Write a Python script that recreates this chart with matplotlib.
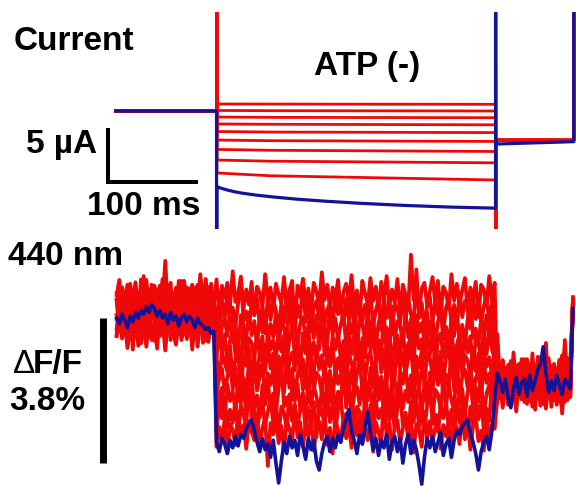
import numpy as np
import matplotlib.pyplot as plt

plt.rcParams['font.family'] = ['Liberation Sans', 'DejaVu Sans']

RED = '#f00808'
BLUE = '#12129a'

# ---- current traces (uA), step from 0 to 310 ms ----
red_start = [0.65, 0.05, -0.56, -1.2, -1.9, -2.69, -3.56, -4.54, -5.74]
red_mid = [0.64, 0.03, -0.59, -1.23, -1.95, -2.75, -3.64, -4.65, -6.0]   # at 60 ms
red_end = [0.62, 0.0, -0.62, -1.28, -2.0, -2.82, -3.75, -4.8, -6.39]
red_tail = -2.7
blue_t = [0.5, 5, 12, 20, 30, 45, 65, 90, 120, 160, 210, 260, 310]
blue_i = [-7.0, -7.15, -7.32, -7.48, -7.63, -7.8, -7.98, -8.17, -8.35, -8.55, -8.75, -8.9, -9.0]
blue_tail = [-3.06, -2.84]
off_scale = 40  # capacitive transients run off the panel

# ---- 440 nm fluorescence (dF/F, %) sampled every 3 ms ----
t_fl = np.arange(-111, 397, 3)
red_pre = [0.55, 0.2, 0.6, 0.0, 0.4, -0.2, 0.3, 0.1, -0.3]
red_pulse = [0.65, 0.2, -0.25, -0.7, -1.15, -1.6, -2.05, -2.5, -2.95]
red_post = [-1.45, -1.6, -1.75, -1.5, -1.9, -1.65, -1.8, -1.55, -1.7]
red_last = [0.55, 0.45, 0.6, 0.4, 0.5, 0.35, 0.5, 0.45, 0.4]
red_window = [0, 130, 45, 100, 20, 75, 115, 60, 10]
noise_unit = 0.0125  # % per noise step
red_noise = [
    12, -18, 25, -5, 30, -22, 8, 35, -30, 14, -8, 40, -15, 20, -35, 5, 28, -12, 80, -25,
    10, -32, 18, 2, -20, 38, -10, 22, -40, 15, 30, -5, -28, 42, -18, 8, -12, 33, -38, 20,
    -6, 26, -24, 50, -14, 4, 36, -30, 12, -20, 28, -42, 18, 6, -26, 44, -8, 16, -34, 24,
    2, -16, 38, -28, 10, 30, -70, 20, -4, 34, -22, 14, -36, 26, 8, -18, 48, -10, 22, -30,
    16, -8, 32, -38, 6, 24, -14, 42, -26, 10, -44, 30, 4, -20, 36, -12, 18, -32, 28, -6,
    40, -24, 12, -16, 34, -40, 22, 2, -28, 85, -10, 20, -36, 14, 26, -22, 8, 38, -18, 30,
    -42, 18, 6, -30, 44, -12, 24, -20, 10, 36, -34, 16, -8, 28, -46, 22, 12, -24, 40, -14,
    26, -36, 14, 32, -18, 4, -38, 48, -22, 18, 8, -28, 34, -16, 22, -42, 30, -6, 14, -26,
    36, -10, 24, -32, 16, 42, -20, 6, -40, 28, -14, 38, -24, 10, -30, 20, 75, -18, 2, -34,
    22, -6, 30, -26, 12, -44, 34, -16, 26, 4, -36, 18, -22, 40, -8, 28, -32, 14, -12, 70,
    -20, 32, -40, 10, 24, -14, 38, -28, 6, 20, -34, 42, -4, 16, -26, 30, -18, 36, -42, 12,
    28, -22, 16, -8, 40, -30, 4, 26, -38, 34, -12, 22, -46, 18, 8, -24, 36, -16, 30, -4,
    -28, 90, -12, 20, -36, 14, 32, -18, 24, -6, 38, -40, 10, 28, -20, 16, -30, 42, -10, 24,
    8, -34, 26, -14, 36, -22, 12, 40, -26, 18, -44, 30, -2, 22, -18, 34, -38, 6, 28, -12,
    18, -28, 42, -16, 4, 30, -36, 20, -10, 80, -24, 14, -32, 26, 10, -40, 22, -6, 36, -20,
]
blue_level = [0.0, -3.3, -1.7]
blue_pre = [5, -10, 15, 0, -20, 10, -5, 20, 5, 25, 15, 35, 20, 40, 30, 10, 25, 5, 15,
            -10, 20, 0, 10, -15, 5, 15, -5, 10, 0, -20, 5, -10, -15, -25, -20, -35, -30]
blue_pulse = [10, -15, 20, 5, -20, 15, -5, 25, 0, 30,
              20, 45, 60, 68, 40, 10, -15, 20, -10, 5,
              -30, 15, -45, -97, -40, 10, -20, 25, -5, 15,
              -25, 30, 0, -35, 20, -10, 15, -40, -63, -20,
              10, 25, -15, 20, -5, 30, 10, 45, 70, 95,
              40, 15, -20, 30, 5, 50, 89, 35, -10, 20,
              -25, 15, -5, 30, -35, 10, 25, -15, 20, -45,
              5, 30, -20, 15, -10, -50, -100, -30, 20, -5,
              25, -15, 10, 35, -25, 5, 20, -30, 15, 40,
              30, 50, 60, 68, 35, 10, -20, -63, -15, 10,
              25, -10, 40, 120]
blue_post = [30, 10, -20, 15, -35, -60, -10, 20, -25, 5, 15, -30, 25, -15, 10,
             40, 55, 100, 30, -20, 10, -15, 25, 0, -25, 15, 5, -10, 200]

W, H = 576, 486
fig = plt.figure(figsize=(W / 100, H / 100), dpi=100)
xlim = (-240.6, 399.4)

# current panel
ax1 = fig.add_axes([0, 1 - 229 / H, 1, 217 / H])
for s, m, e in zip(red_start, red_mid, red_end):
    ax1.plot([-112, 0, 0, 0.5, 60, 310, 310, 310.5, 397, 397],
             [0, 0, off_scale, s, m, e, -off_scale, red_tail, red_tail, off_scale],
             color=RED, lw=2.0)
ax1.plot([-112, 0, 0] + blue_t + [310, 310.5, 397, 397],
         [0, 0, -off_scale] + blue_i + [off_scale, blue_tail[0], blue_tail[1], off_scale],
         color=BLUE, lw=2.3)
ax1.plot([-20.6, -120.6, -120.6], [-6.57, -6.57, -1.57], color='black', lw=2.9,
         solid_joinstyle='miter', solid_capstyle='butt')
ax1.set_xlim(xlim)
ax1.set_ylim(-10.93, 9.17)
ax1.axis('off')

# fluorescence panel
ax2 = fig.add_axes([0, 0, 1, 246 / H])
pre = t_fl < 0
post = t_fl >= 310
pulse = ~pre & ~post
noise = np.array(red_noise) * noise_unit
for i in range(len(red_pre)):
    f = noise[red_window[i]:red_window[i] + len(t_fl)].copy()
    f[pre] += red_pre[i]
    f[pulse] += red_pulse[i]
    f[post] += red_post[i]
    f[-1] = red_last[i]
    ax2.plot(t_fl, f, color=RED, lw=2.7)
fb = np.array(blue_pre + blue_pulse + blue_post) / 100
fb[pre] += blue_level[0]
fb[pulse] += blue_level[1]
fb[post] += blue_level[2]
ax2.plot(t_fl, fb, color=BLUE, lw=2.6)
ax2.plot([-126.1, -126.1], [0.05, -3.75], color='black', lw=5, solid_capstyle='butt')
ax2.set_xlim(xlim)
ax2.set_ylim(-4.35, 2.096)
ax2.axis('off')


def label(x, y, s, ha='left', weight='bold'):
    fig.text(x / W, 1 - y / H, s, ha=ha, va='baseline', fontsize=24, fontweight=weight)


label(14, 50, 'Current')
label(367, 75, 'ATP (-)', ha='center')
label(97, 153, '5 µA', ha='right')
label(144, 215, '100 ms', ha='center')
label(8, 265, '440 nm')
label(13, 373, 'Δ', weight='normal')
label(33, 373, 'F/F')
label(47, 410, '3.8%', ha='center')

fig.savefig('out.png', dpi=100)
